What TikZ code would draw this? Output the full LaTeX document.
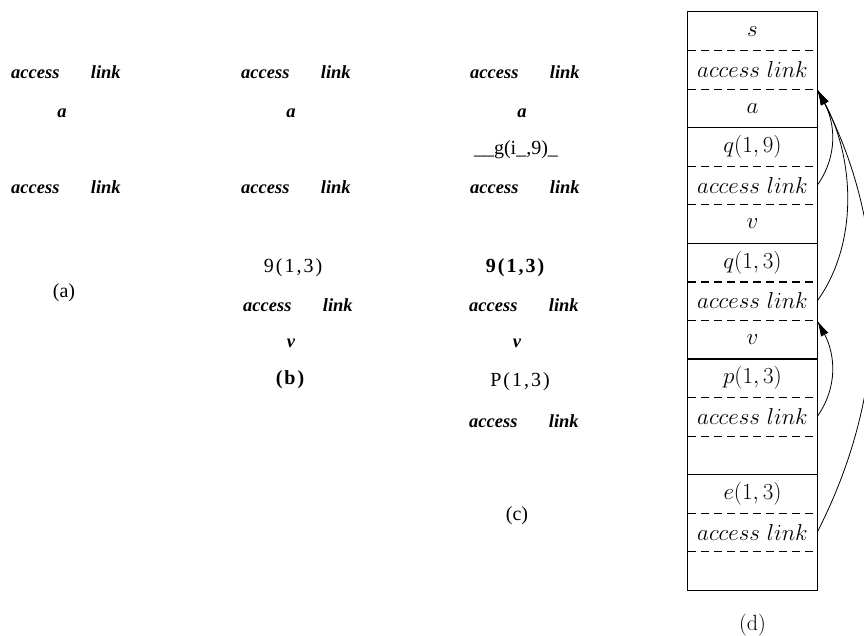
\RequirePackage{fix-cm}
\documentclass[tikz,border=0pt]{standalone}
\usepackage{fontspec}
\newfontfamily\tms{Liberation Serif}
\usetikzlibrary{arrows.meta}
\tikzset{
  bi/.style={font=\tms\bfseries\itshape\fontsize{18.5}{22}\selectfont, inner sep=0pt},
  al/.style={bi, anchor=west},
  rmt/.style={font=\tms\fontsize{20}{24}\selectfont, inner sep=0pt},
  rmsp/.style={font=\tms\fontsize{20}{24}\selectfont\addfontfeature{LetterSpace=10}, inner sep=0pt},
  bfsp/.style={font=\tms\bfseries\fontsize{20}{24}\selectfont\addfontfeature{LetterSpace=10}, inner sep=0pt},
  cell/.style={minimum width=129pt, minimum height=38.53pt, inner sep=0pt, font=\fontsize{23}{27}\selectfont},
  ssep/.style={line width=1.1pt},
  dsep/.style={line width=1.1pt, dash pattern=on 8pt off 5pt},
  alink/.style={line width=0.8pt, -{Latex[length=16pt,width=8.5pt]}},
}
\newcommand{\AL}{\textit{access}\hspace{1.7em}\textit{link}}
\begin{document}
\begin{tikzpicture}[x=1pt,y=-1pt]
\clip (0,0) rectangle (864,635);
% ---------- column (a)
\node[al] (a1) at (11,72) {\AL};
\node[bi] (a2) at (62,113) {a};
\node[al] (a3) at (11,187) {\AL};
\node[rmt] (acap) at (64,293) {(a)};
% ---------- column (b)
\node[al] (b1) at (241,72) {\AL};
\node[bi] (b2) at (291,113) {a};
\node[al] (b3) at (241,187) {\AL};
\node[rmsp] (b4) at (293,268) {9(1,3)};
\node[al] (b5) at (243,305) {\AL};
\node[bi] (b6) at (291,343) {v};
\node[bfsp] (bcap) at (290,380) {(b)};
% ---------- column (c)
\node[al] (k1) at (470,72) {\AL};
\node[bi] (k2) at (522,113) {a};
\node[rmt] (k3) at (516,150) {\_\_g(i\_,9)\_};
\node[al] (k4) at (470,187) {\AL};
\node[bfsp] (k5) at (515,268) {9(1,3)};
\node[al] (k6) at (469,305) {\AL};
\node[bi] (k7) at (517,343) {v};
\node[rmsp] (k8) at (520,382) {P(1,3)};
\node[al] (k9) at (469,421) {\AL};
\node[rmt] (kcap) at (517,516) {(c)};
% ---------- column (d): stack
\node[cell] (c1)  at (752.5,31.27)  {$s$};
\node[cell] (c2)  at (752.5,69.8)   {$access\ link$};
\node[cell] (c3)  at (752.5,108.3)  {$a$};
\node[cell] (c4)  at (752.5,146.9)  {$q(1,9)$};
\node[cell] (c5)  at (752.5,185.4)  {$access\ link$};
\node[cell] (c6)  at (752.5,223.9)  {$v$};
\node[cell] (c7)  at (752.5,262.5)  {$q(1,3)$};
\node[cell] (c8)  at (752.5,301.0)  {$access\ link$};
\node[cell] (c9)  at (752.5,339.5)  {$v$};
\node[cell] (c10) at (752.5,378.1)  {$p(1,3)$};
\node[cell] (c11) at (752.5,416.6)  {$access\ link$};
\node[cell] (c12) at (752.5,455.2)  {};
\node[cell] (c13) at (752.5,493.7)  {$e(1,3)$};
\node[cell] (c14) at (752.5,532.2)  {$access\ link$};
\node[cell] (c15) at (752.5,570.7)  {};
\node[font=\fontsize{22}{26}\selectfont, inner sep=0pt] (dcap) at (752.5,625) {(d)};
% separators
\foreach \i in {1,2,4,5,7,8,10,11,13,14}
  \draw[dsep] (c\i.south west) -- (c\i.south east);
\foreach \i in {3,6,9,12}
  \draw[ssep] (c\i.south west) -- (c\i.south east);
\draw[line width=1.3pt] (c1.north west) rectangle (c15.south east);
% access links
\draw[alink] (c5.east) .. controls +(21,-30) and +(18,34) .. (c2.south east);
\draw[alink] (c8.east) .. controls +(43,-60) and +(36,66) .. (c2.south east);
\draw[alink] (c14.east) .. controls +(77,-150) and +(70,135) .. (c2.south east);
\draw[alink] (c11.east) .. controls +(21,-30) and +(18,34) .. (c8.south east);
\end{tikzpicture}
\end{document}
